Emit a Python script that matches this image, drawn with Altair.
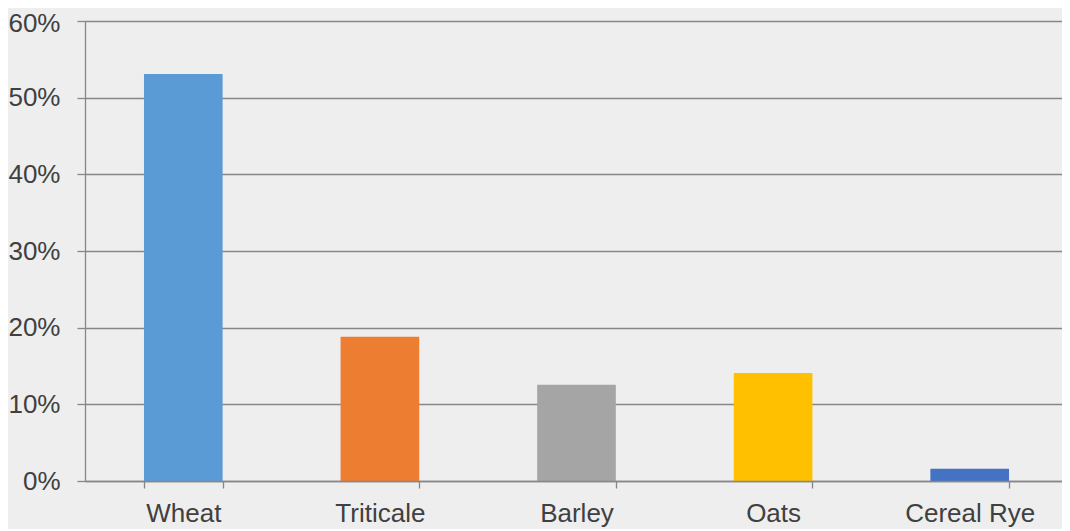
import altair as alt
import pandas as pd

categories = ["Wheat", "Triticale", "Barley", "Oats", "Cereal Rye"]
shares = [0.531, 0.188, 0.1255, 0.141, 0.016]
colors = ["#5B9BD5", "#ED7D31", "#A5A5A5", "#FFC000", "#4472C4"]
y_ticks = [0, 0.1, 0.2, 0.3, 0.4, 0.5, 0.6]

df = pd.DataFrame({"crop": categories, "share": shares})

FONT = "Liberation Sans"
GRID = "#878787"
TEXT = "#404040"

chart = alt.Chart(df).mark_bar().encode(
    x=alt.X(
        "crop:N",
        sort=categories,
        title=None,
        scale=alt.Scale(paddingInner=0.6, paddingOuter=0.3, range=[0, 983]),
        axis=alt.Axis(
            labelAngle=0,
            labelFont=FONT,
            labelFontSize=26,
            labelColor=TEXT,
            labelPadding=12,
            tickBand="extent",
            tickSize=7,
            tickColor=GRID,
            tickWidth=1.3,
            domainColor=GRID,
            domainWidth=1.3,
            grid=False,
            zindex=1,
        ),
    ),
    y=alt.Y(
        "share:Q",
        title=None,
        scale=alt.Scale(domain=[0, 0.6], nice=False),
        axis=alt.Axis(
            values=y_ticks,
            format=".0%",
            labelFont=FONT,
            labelFontSize=26,
            labelColor=TEXT,
            labelPadding=17,
            labelOffset={"condition": {"test": "datum.value >= 0.59", "value": 2}, "value": 0},
            tickSize=8,
            tickColor=GRID,
            tickWidth=1.3,
            domainColor=GRID,
            domainWidth=1.3,
            gridColor=GRID,
            gridWidth=1.3,
        ),
    ),
    color=alt.Color(
        "crop:N",
        scale=alt.Scale(domain=categories, range=colors),
        legend=None,
    ),
).properties(
    width=977,
    height=460,
    background="#EEEEEE",
    autosize=alt.AutoSizeParams(type="none"),
    padding={"left": 77, "top": 13, "right": 0, "bottom": 48},
).configure_view(stroke=None)

chart.save("out.html", embed_options={"renderer": "svg", "actions": False})
